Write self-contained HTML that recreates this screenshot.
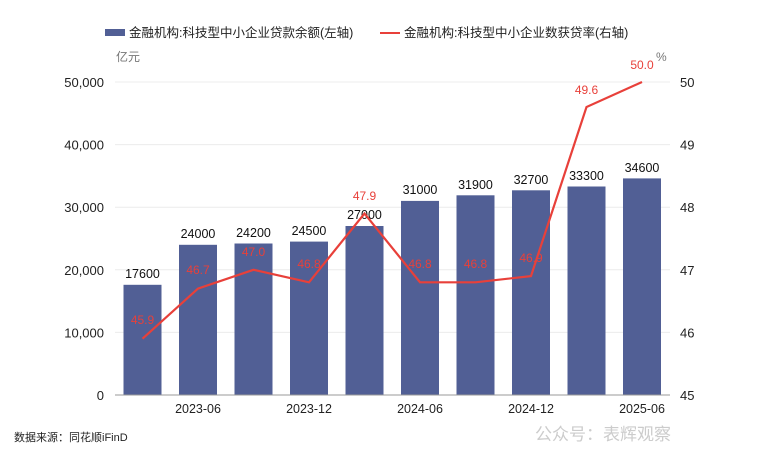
<!DOCTYPE html>
<html><head><meta charset="utf-8"><style>
body{margin:0;background:#fff;width:759px;height:463px;overflow:hidden}
text{font-family:"Liberation Sans","Noto Sans CJK SC",sans-serif}
</style></head><body>
<svg width="759" height="463" xmlns="http://www.w3.org/2000/svg">
<rect x="105" y="29" width="20" height="7" fill="#515f95"/>
<text x="129" y="37" font-size="12.5" fill="#222">金融机构:科技型中小企业贷款余额(左轴)</text>
<line x1="380" y1="33" x2="400" y2="33" stroke="#e8403a" stroke-width="2"/>
<text x="404" y="37" font-size="12.5" fill="#222">金融机构:科技型中小企业数获贷率(右轴)</text>
<text x="116" y="61" font-size="12" fill="#777">亿元</text>
<text x="656" y="61" font-size="12" fill="#777">%</text>
<g stroke="#ececec" stroke-width="1">
<line x1="115" y1="82" x2="670" y2="82"/><line x1="115" y1="144.6" x2="670" y2="144.6"/>
<line x1="115" y1="207.2" x2="670" y2="207.2"/><line x1="115" y1="269.8" x2="670" y2="269.8"/>
<line x1="115" y1="332.4" x2="670" y2="332.4"/>
</g>
<g font-size="13" fill="#222" text-anchor="end">
<text x="104" y="87">50,000</text><text x="104" y="149.6">40,000</text><text x="104" y="212.2">30,000</text>
<text x="104" y="274.8">20,000</text><text x="104" y="337.4">10,000</text><text x="104" y="400">0</text>
</g>
<g font-size="13" fill="#222">
<text x="680" y="87">50</text><text x="680" y="149.6">49</text><text x="680" y="212.2">48</text>
<text x="680" y="274.8">47</text><text x="680" y="337.4">46</text><text x="680" y="400">45</text>
</g>
<g fill="#515f95">
<rect x="123.5" y="284.8" width="38" height="110.2"/>
<rect x="179" y="244.8" width="38" height="150.2"/>
<rect x="234.5" y="243.5" width="38" height="151.5"/>
<rect x="290" y="241.6" width="38" height="153.4"/>
<rect x="345.5" y="226" width="38" height="169"/>
<rect x="401" y="200.9" width="38" height="194.1"/>
<rect x="456.5" y="195.3" width="38" height="199.7"/>
<rect x="512" y="190.3" width="38" height="204.7"/>
<rect x="567.5" y="186.5" width="38" height="208.5"/>
<rect x="623" y="178.4" width="38" height="216.6"/>
</g>
<line x1="115" y1="395" x2="670" y2="395" stroke="#999"/>
<g font-size="12.5" fill="#111" text-anchor="middle">
<text x="142.5" y="278">17600</text><text x="198" y="238">24000</text><text x="253.5" y="237">24200</text>
<text x="309" y="235">24500</text><text x="364.5" y="219">27000</text><text x="420" y="194">31000</text>
<text x="475.5" y="189">31900</text><text x="531" y="184">32700</text><text x="586.5" y="180">33300</text>
<text x="642" y="172">34600</text>
</g>
<polyline fill="none" stroke="#e8403a" stroke-width="2.2" points="142.5,338.7 198,288.6 253.5,269.8 309,282.3 364.5,213.5 420,282.3 475.5,282.3 531,276.1 586.5,107 642,82"/>
<g font-size="12" fill="#e8403a" text-anchor="middle">
<text x="142.5" y="324">45.9</text><text x="198" y="274">46.7</text><text x="253.5" y="256">47.0</text>
<text x="309" y="268">46.8</text><text x="364.5" y="200">47.9</text><text x="420" y="268">46.8</text>
<text x="475.5" y="268">46.8</text><text x="531" y="262">46.9</text><text x="586.5" y="94">49.6</text>
<text x="642" y="69">50.0</text>
</g>
<g font-size="12.5" fill="#222" text-anchor="middle">
<text x="198" y="413">2023-06</text><text x="309" y="413">2023-12</text><text x="420" y="413">2024-06</text>
<text x="531" y="413">2024-12</text><text x="642" y="413">2025-06</text>
</g>
<text x="14" y="441" font-size="11" fill="#222">数据来源：同花顺iFinD</text>
<text x="535" y="440" font-size="17" fill="#ccc">公众号：表辉观察</text>
</svg>
</body></html>
